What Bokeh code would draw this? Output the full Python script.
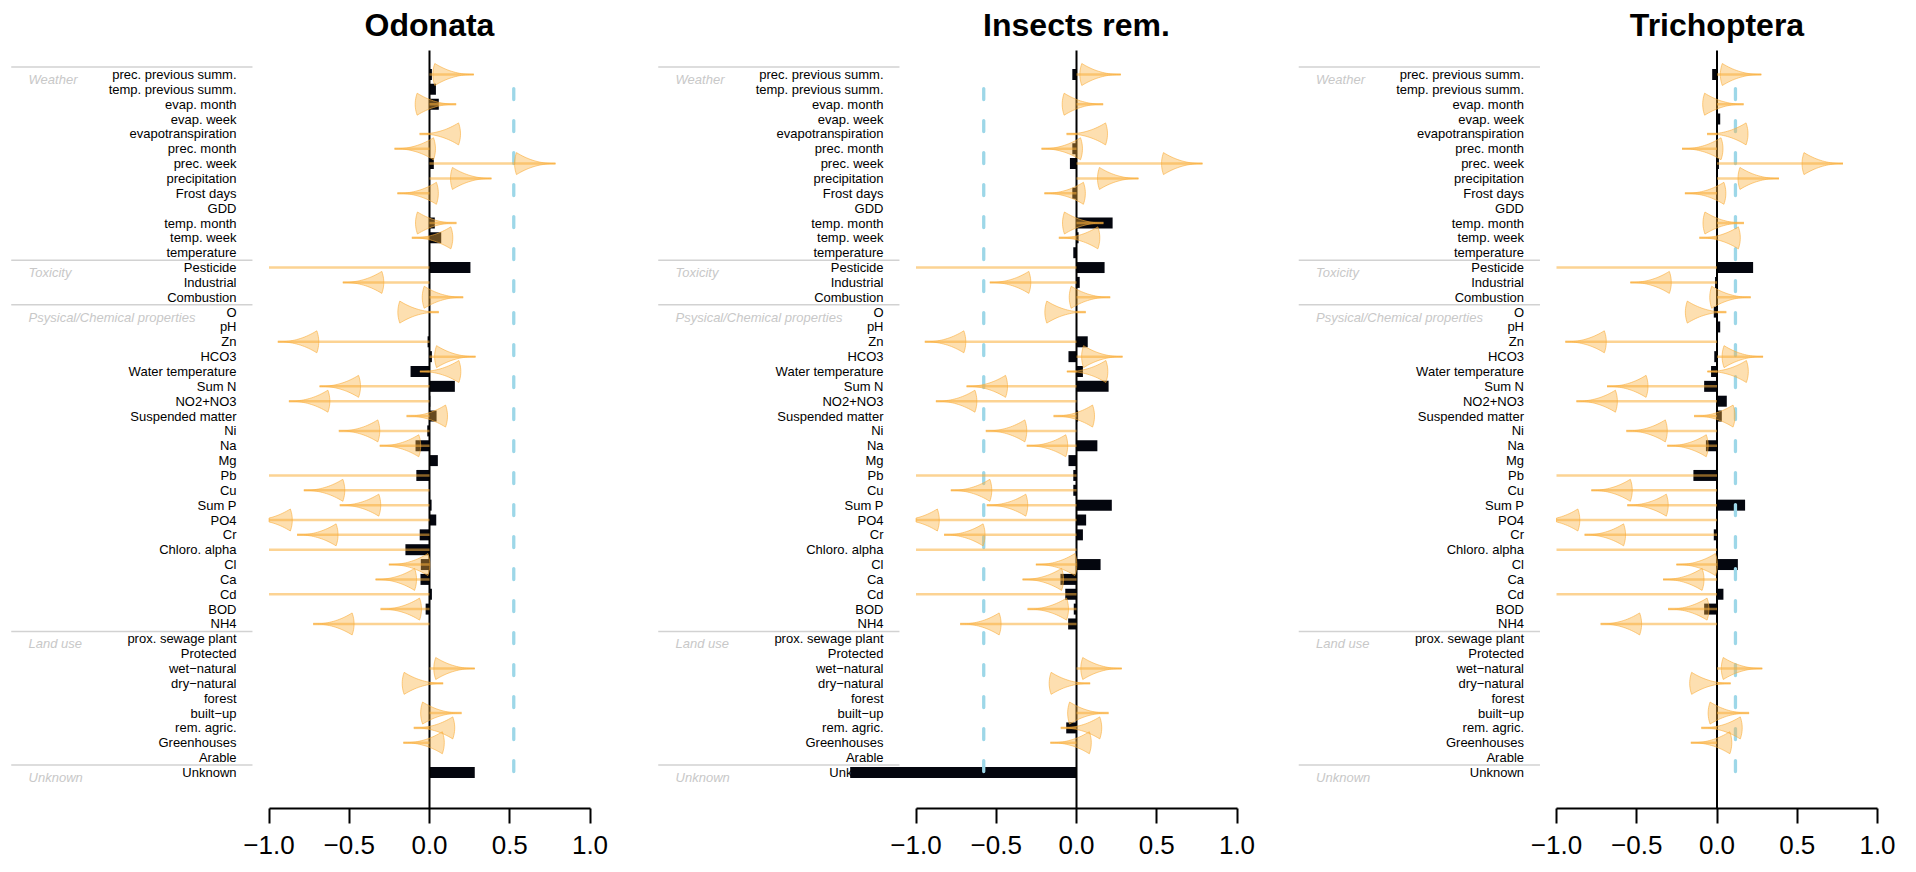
import numpy as np
from bokeh.plotting import figure
from bokeh.models import Range1d, FixedTicker
from bokeh.layouts import row
from bokeh.embed import file_html
from bokeh.resources import INLINE
from bokeh.core.properties import value

# ---------------- data ----------------
variables = [
    "prec. previous summ.", "temp. previous summ.", "evap. month", "evap. week",
    "evapotranspiration", "prec. month", "prec. week", "precipitation", "Frost days",
    "GDD", "temp. month", "temp. week", "temperature",
    "Pesticide", "Industrial", "Combustion",
    "O", "pH", "Zn", "HCO3", "Water temperature", "Sum N", "NO2+NO3",
    "Suspended matter", "Ni", "Na", "Mg", "Pb", "Cu", "Sum P", "PO4", "Cr",
    "Chloro. alpha", "Cl", "Ca", "Cd", "BOD", "NH4",
    "prox. sewage plant", "Protected", "wet\u2212natural", "dry\u2212natural", "forest",
    "built\u2212up", "rem. agric.", "Greenhouses", "Arable",
    "Unknown",
]
groups = ["Weather", "Toxicity", "Psysical/Chemical properties", "Land use", "Unknown"]
group_sizes = [13, 3, 22, 9, 1]

nan = float("nan")
# change of each driver (arrow end), shared by the three panels
arrow_end = [
    0.276, nan, 0.166, nan, -0.062, -0.218, 0.785, 0.386, -0.20, nan, 0.168, -0.11, nan,
    -1.5, -0.54, 0.21,
    0.058, nan, -0.945, 0.287, -0.06, -0.685, -0.876, -0.143, -0.565, -0.31, nan, -1.5,
    -0.783, -0.559, -1.11, -0.825, -1.5, -0.253, -0.336, -1.5, -0.305, -0.725,
    nan, nan, 0.282, 0.085, nan, 0.20, -0.098, -0.163, nan,
    nan,
]

odonata = [
    0.015, 0.04, 0.058, 0, 0, 0, 0.027, 0, 0, 0, 0.033, 0.073, 0,
    0.255, 0, 0,
    0, 0, -0.012, 0.015, -0.118, 0.158, 0.005, 0.044, -0.014, -0.087, 0.052, -0.082,
    0, 0.013, 0.042, -0.061, -0.15, -0.054, -0.056, 0.015, -0.024, 0,
    0, 0, 0, 0, 0, 0, 0, 0, 0,
    0.282,
]
insects = [
    -0.026, 0, 0, 0, 0, -0.026, -0.041, 0, -0.026, 0, 0.225, 0.013, -0.02,
    0.175, 0.02, 0,
    0, 0, 0.07, -0.05, 0.04, 0.2, 0, 0.01, 0, 0.13, -0.05, -0.02,
    -0.02, 0.22, 0.06, 0.04, 0, 0.15, -0.1, -0.07, -0.017, -0.052,
    0, 0, 0, 0, 0, 0, -0.064, 0, 0,
    -1.41,
]
trichoptera = [
    -0.03, 0, 0, 0.02, 0, 0, 0.012, 0, 0, 0, 0, 0, 0,
    0.225, -0.012, 0,
    -0.02, 0.02, 0, -0.017, -0.037, -0.08, 0.061, 0.03, 0.005, -0.069, 0, -0.147,
    0, 0.175, 0, -0.02, 0, 0.13, 0, 0.04, -0.08, 0,
    0, 0, 0, 0, 0, 0, 0, 0, 0,
    0,
]
panel_names = ["Odonata", "Insects rem.", "Trichoptera"]
panel_values = [odonata, insects, trichoptera]
thresholds = [0.525, -0.578, 0.115]

tick_values = [-1, -0.5, 0, 0.5, 1]
tick_labels = ["\u22121.0", "\u22120.5", "0.0", "0.5", "1.0"]

# ---------------- layout constants ----------------
PX_PER_UNIT = 160.5
ROW_PX = 14.85
FRAME_H = 808
Y_TOP = 1 + (0 - 74) / ROW_PX        # canvas top
Y_BOT = 1 + (808 - 74) / ROW_PX      # axis line
Y_ZERO_TOP = 1 + (50 - 74) / ROW_PX  # top of the zero line
frame_widths = [655, 640, 621]
x_starts = [-429 / PX_PER_UNIT, (655 - 1076) / PX_PER_UNIT, (1295 - 1716.5) / PX_PER_UNIT]
ORANGE = "#FAAE3A"
FONT = "Liberation Sans"

rows = np.arange(1, len(variables) + 1, dtype=float)
first_rows = np.cumsum([0] + group_sizes[:-1]) + 1
sep_rows = list(first_rows - 0.5)

HEAD_L = 39 / PX_PER_UNIT
HEAD_W = 11 / ROW_PX


def clip_left(xs, ys, xmin):
    out_x, out_y = [], []
    n = len(xs)
    for i in range(n):
        x1, y1 = xs[i], ys[i]
        x2, y2 = xs[(i + 1) % n], ys[(i + 1) % n]
        in1, in2 = x1 >= xmin, x2 >= xmin
        if in1:
            out_x.append(x1); out_y.append(y1)
        if in1 != in2:
            t = (xmin - x1) / (x2 - x1)
            out_x.append(xmin); out_y.append(y1 + t * (y2 - y1))
    return out_x, out_y


def head_poly(tip, yc):
    d = 1.0 if tip > 0 else -1.0
    s = np.linspace(0, 1, 20)
    xu = tip - d * HEAD_L * s
    w = HEAD_W * s ** 2.2
    # back edge slightly bulging away from the tip
    b = np.linspace(-1, 1, 13)
    xb = tip - d * HEAD_L * (1 + 0.05 * (1 - b ** 2))
    yb = yc + HEAD_W * b
    xs = list(xu) + list(xb[1:-1]) + list(xu[::-1])
    ys = list(yc - w) + list(yb[1:-1]) + list((yc + w)[::-1])
    return clip_left(xs, ys, -1.0)


figs = []
for name, vals, thr, fw, xs0 in zip(panel_names, panel_values, thresholds, frame_widths, x_starts):
    x_end = xs0 + fw / PX_PER_UNIT
    p = figure(frame_width=fw, frame_height=FRAME_H,
               x_range=Range1d(xs0, x_end), y_range=Range1d(Y_BOT, Y_TOP),
               output_backend="svg", toolbar_location=None, y_axis_location=None,
               min_border_left=0, min_border_right=0, min_border_top=0, min_border_bottom=63)
    p.grid.visible = False
    p.outline_line_color = None
    p.background_fill_color = "white"
    p.border_fill_color = "white"

    ax = p.xaxis[0]
    ax.ticker = FixedTicker(ticks=tick_values)
    ax.major_label_overrides = {-1: tick_labels[0], -0.5: tick_labels[1], 0: tick_labels[2],
                                0.5: tick_labels[3], 1: tick_labels[4]}
    ax.bounds = (-1, 1)
    ax.axis_line_width = 2
    ax.axis_line_color = "black"
    ax.major_tick_line_width = 2
    ax.major_tick_line_color = "black"
    ax.major_tick_out = 15
    ax.major_tick_in = 0
    ax.minor_tick_line_color = None
    ax.major_label_text_font = FONT
    ax.major_label_text_font_size = "26px"
    ax.major_label_text_color = "black"
    ax.major_label_standoff = 12

    # title
    p.text(x=[0], y=[-2.3], text=[name], text_align="center", text_baseline="middle",
           text_font=value(FONT), text_font_style="bold", text_font_size="32px",
           text_color="black")
    # separators
    p.segment(x0=-2.606, x1=-1.103, y0=sep_rows, y1=sep_rows, line_color="#D2D2D2", line_width=1.5)
    # group labels
    p.text(x=[-2.498] * len(groups), y=list(first_rows + 0.33), text=groups,
           text_align="left", text_baseline="middle", text_color="#C8C8C8",
           text_font=value(FONT), text_font_style="italic", text_font_size="13px")
    # variable labels
    p.text(x=[-1.2025] * len(variables), y=list(rows), text=variables,
           text_align="right", text_baseline="middle", text_color="black",
           text_font=value(FONT), text_font_size="13px")
    # bars
    p.hbar(y=list(rows), left=0, right=vals, height=0.74, fill_color="#04060E", line_color=None)
    # zero line
    p.segment(x0=[0], x1=[0], y0=[Y_ZERO_TOP], y1=[Y_BOT], line_color="black", line_width=2)
    # threshold
    p.segment(x0=[thr], x1=[thr], y0=[1.95], y1=[47.95], line_color="#9DD7E8",
              line_width=3.3, line_dash="11 21", line_cap="round")
    # arrows
    ax_x0, ax_x1, ax_y, hx, hy = [], [], [], [], []
    for r, a in zip(rows, arrow_end):
        if np.isnan(a):
            continue
        ax_x0.append(0.0); ax_x1.append(max(a, -1.0)); ax_y.append(r)
        px, py = head_poly(a, r)
        if len(px) > 2:
            hx.append(px); hy.append(py)
    p.segment(x0=ax_x0, x1=ax_x1, y0=ax_y, y1=ax_y, line_color=ORANGE, line_alpha=0.55,
              line_width=2.5)
    p.patches(xs=hx, ys=hy, fill_color=ORANGE, fill_alpha=0.4, line_color=ORANGE,
              line_alpha=0.6, line_width=1)
    figs.append(p)

layout = row(*figs, spacing=0)
open("out.html", "w").write(file_html(layout, INLINE))
